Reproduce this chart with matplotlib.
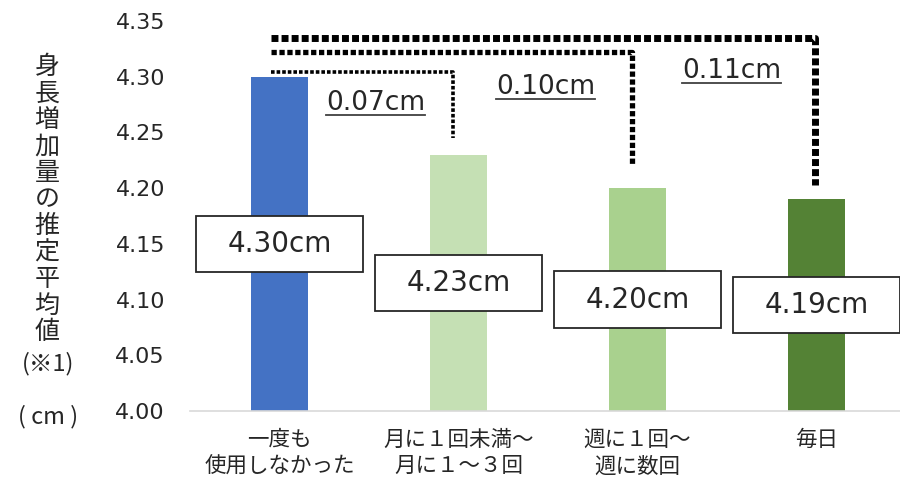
import matplotlib
matplotlib.use("Agg")
import matplotlib.pyplot as plt
from matplotlib.lines import Line2D
from matplotlib.patches import Rectangle

plt.rcParams['font.family'] = ['DejaVu Sans', 'Noto Sans CJK JP']

# ---- data ----
categories = ["一度も\n使用しなかった", "月に１回未満～\n月に１～３回", "週に１回～\n週に数回", "毎日"]
values = [4.30, 4.23, 4.20, 4.19]
value_labels = ["4.30cm", "4.23cm", "4.20cm", "4.19cm"]
diff_labels = ["0.07cm", "0.10cm", "0.11cm"]
colors = ["#4472C4", "#C5E0B4", "#A9D18E", "#548235"]
yticks = [4.00, 4.05, 4.10, 4.15, 4.20, 4.25, 4.30, 4.35]
ylabel_chars = list("身長増加量の推定平均値")

YMIN, YMAX = 4.00, 4.35
W, H = 900, 480
txt = "#262626"

fig = plt.figure(figsize=(9, 4.8), dpi=100)
ax = fig.add_axes([190 / W, 69 / H, 716 / W, 390 / H])
x = list(range(len(values)))
ax.bar(x, [v - YMIN for v in values], bottom=YMIN, width=0.32, color=colors, zorder=2)
ax.set_xlim(-0.5, 3.5)
ax.set_ylim(YMIN, YMAX)
ax.set_yticks(yticks)
ax.set_yticklabels([f"{t:.2f}" for t in yticks], fontsize=16, color=txt)
ax.set_xticks(x)
ax.set_xticklabels(categories, fontsize=15.5, color=txt, linespacing=1.25,
                   family=['Noto Sans CJK JP', 'DejaVu Sans'])
ax.tick_params(axis='both', length=0)
ax.tick_params(axis='y', pad=18)
ax.tick_params(axis='x', pad=13)
for s in ["left", "top", "right"]:
    ax.spines[s].set_visible(False)
ax.spines["bottom"].set_color("#D9D9D9")
ax.spines["bottom"].set_linewidth(1.2)

# value label boxes (centered in bar)
bw, bh = 0.93, 0.0505
for i, (v, lab) in enumerate(zip(values, value_labels)):
    yc = (YMIN + v) / 2
    ax.add_patch(Rectangle((i - bw / 2, yc - bh / 2), bw, bh, facecolor="white",
                           edgecolor="#262626", linewidth=1.3, zorder=3, clip_on=False))
    ax.text(i, yc, lab, ha="center", va="center", fontsize=20, color=txt, zorder=4)

# brackets
x_start = -0.05
br_y = [4.3042, 4.3222, 4.3347]
br_x = [0.972, 1.972, 2.994]
br_end_off = [0.015, 0.020, 0.013]
br_lw = [2.6, 3.8, 5.0]
br_dash = [(0, (1.0, 0.55)), (0, (1.0, 0.5)), (0, (1.0, 0.45))]
for k in range(3):
    ax.plot([x_start, br_x[k], br_x[k]], [br_y[k], br_y[k], values[k + 1] + br_end_off[k]],
            color="black", lw=br_lw[k], linestyle=br_dash[k], dash_capstyle="butt",
            solid_joinstyle="miter", zorder=3, clip_on=False)

# difference labels (underlined)
d_x = [0.536, 1.486, 2.525]
d_y = [4.2764, 4.2908, 4.3051]
dtexts = []
for k, lab in enumerate(diff_labels):
    t = ax.text(d_x[k], d_y[k], lab, ha="center", va="center", fontsize=19, color=txt, zorder=4)
    dtexts.append(t)

# y label (vertical stacked characters)
for j, ch in enumerate(ylabel_chars):
    fig.text(47 / W, 1 - (67 + 26.5 * j) / H, ch, ha="center", va="center", fontsize=18,
             color=txt, family=['Noto Sans CJK JP', 'DejaVu Sans'])
fig.text(48 / W, 1 - 364 / H, "(※1)", ha="center", va="center", fontsize=17, color=txt,
         family=['Noto Sans CJK JP', 'DejaVu Sans'])
fig.text(48 / W, 1 - 417 / H, "( cm )", ha="center", va="center", fontsize=17, color=txt,
         family=['Noto Sans CJK JP', 'DejaVu Sans'])

fig.canvas.draw()
r = fig.canvas.get_renderer()
for t in dtexts:
    bb = t.get_window_extent(renderer=r)
    yline = bb.y0 + 1
    fig.add_artist(Line2D([bb.x0 / W, bb.x1 / W], [yline / H, yline / H],
                          transform=fig.transFigure, color="#404040", lw=1.3))

fig.savefig("out.png", dpi=100)
